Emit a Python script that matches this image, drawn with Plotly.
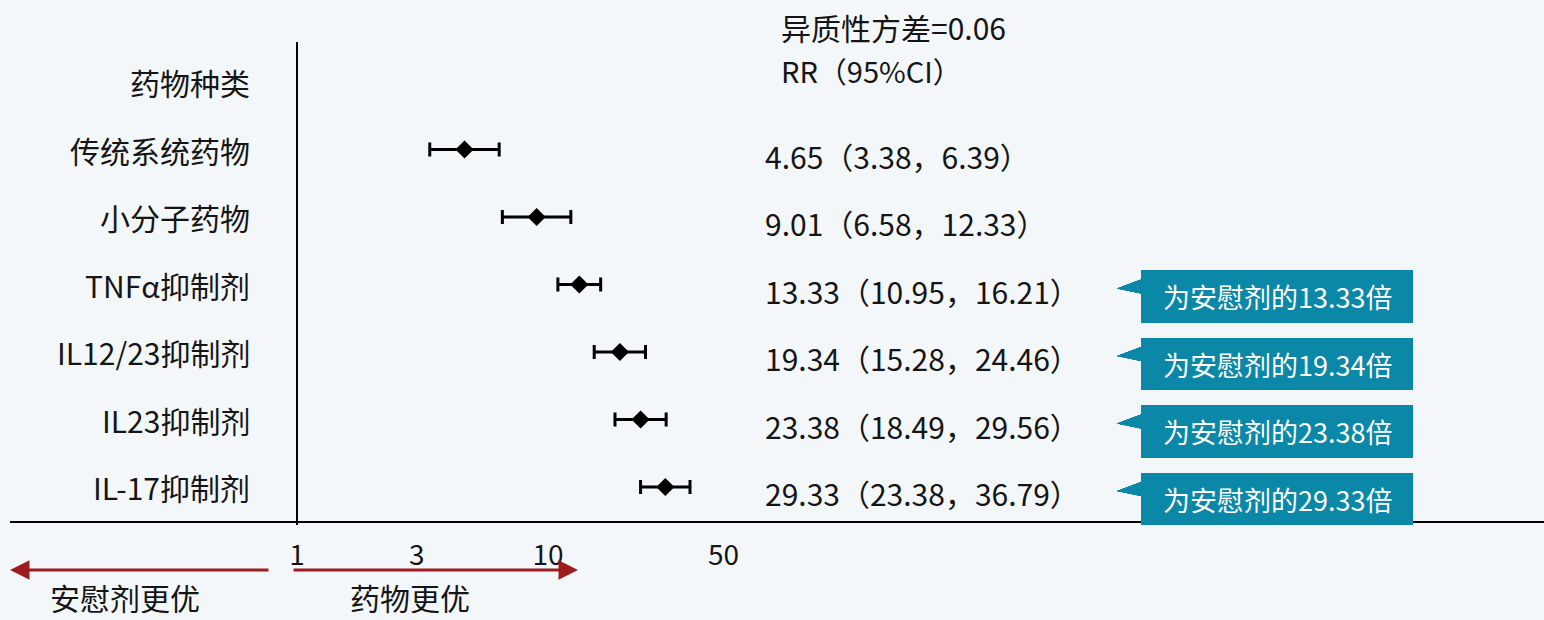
import plotly.graph_objects as go
import math

# ---------------- data ----------------
categories = ["传统系统药物", "小分子药物", "TNFα抑制剂", "IL12/23抑制剂", "IL23抑制剂", "IL-17抑制剂"]
rr = [4.65, 9.01, 13.33, 19.34, 23.38, 29.33]
ci_low = [3.38, 6.58, 10.95, 15.28, 18.49, 23.38]
ci_high = [6.39, 12.33, 16.21, 24.46, 29.56, 36.79]
show_callout = [False, False, True, True, True, True]
tick_vals = [1, 3, 10, 50]
tick_text = ["1", "3", "10", "50"]
null_value = 1
header_label = "药物种类"
heterogeneity_text = "异质性方差=0.06"
effect_header = "RR（95%CI）"
left_label = "安慰剂更优"
right_label = "药物更优"

# ---------------- layout constants ----------------
W, H = 1544, 620
FONT = "Noto Sans CJK SC"
ROW_PX = 67.5          # pixel height of one row
ROW0_PX = 82           # pixel of row index 0 (header)
NULL_PX = 297          # pixel of x = 1
DECADE_PX = 251        # pixels per decade on the log axis
AXIS_PX = 522          # pixel of the horizontal axis line
X_LEFT_PX = 10
TEAL = "#0b87a8"
ARROW = "#a01b1f"
TXT = "#151515"

rows = list(range(1, len(categories) + 1))

fig = go.Figure()

# background gradient bands
top_c = (250, 251, 253)
bot_c = (224, 233, 241)
nb = 31
for k in range(nb):
    t = k / (nb - 1)
    c = tuple(int(round(top_c[j] + (bot_c[j] - top_c[j]) * t)) for j in range(3))
    fig.add_shape(type="rect", xref="paper", yref="paper",
                  x0=0, x1=1, y0=1 - (k + 1) / nb, y1=1 - k / nb,
                  fillcolor="rgb(%d,%d,%d)" % c, line_width=0, layer="below")

# faint mountain silhouettes
def P(x, y):
    return "%f,%f" % (x / W, 1 - y / H)

mountains = [
    ([(0, 330), (60, 250), (110, 235), (150, 270), (230, 330), (300, 420), (300, 620), (0, 620)], "rgba(200,215,228,0.35)"),
    ([(1100, 180), (1180, 110), (1240, 95), (1290, 150), (1400, 70), (1544, 0), (1544, 620), (1100, 620)], "rgba(205,220,232,0.30)"),
    ([(420, 520), (560, 430), (700, 470), (820, 420), (980, 500), (1100, 470), (1100, 620), (420, 620)], "rgba(205,220,232,0.25)"),
]
for pts, col in mountains:
    path = "M " + " L ".join(P(x, y) for x, y in pts) + " Z"
    fig.add_shape(type="path", xref="paper", yref="paper", path=path,
                  fillcolor=col, line_width=0, layer="below")

# forest plot points with CIs
fig.add_trace(go.Scatter(
    x=rr, y=rows, mode="markers",
    marker=dict(symbol="diamond", size=14, color="black"),
    error_x=dict(type="data", symmetric=False,
                 array=[h - v for h, v in zip(ci_high, rr)],
                 arrayminus=[v - l for v, l in zip(rr, ci_low)],
                 color="black", thickness=3, width=7),
    showlegend=False, hoverinfo="skip",
))

annotations = []
null_log = math.log10(null_value)   # annotations on a log axis take log10 units
# row labels
annotations.append(dict(x=null_log, xref="x", y=0, yref="y", text=header_label,
                        xanchor="right", xshift=-(NULL_PX - 252), showarrow=False,
                        font=dict(family=FONT, size=30, color=TXT)))
for r, name in zip(rows, categories):
    annotations.append(dict(x=null_log, xref="x", y=r, yref="y", text=name,
                            xanchor="right", xshift=-(NULL_PX - 252), showarrow=False,
                            font=dict(family=FONT, size=30, color=TXT)))
# value texts
for r, v, lo, hi in zip(rows, rr, ci_low, ci_high):
    annotations.append(dict(x=763 / W, xref="paper", y=r, yref="y",
                            text=f"{v:.2f}（{lo:.2f}，{hi:.2f}）",
                            xanchor="left", yshift=-6, showarrow=False,
                            font=dict(family=FONT, size=30, color=TXT)))
# header texts
annotations.append(dict(x=779 / W, xref="paper", y=1 - 27 / H, yref="paper",
                        text=heterogeneity_text, xanchor="left", yanchor="middle",
                        showarrow=False, font=dict(family=FONT, size=30, color=TXT)))
annotations.append(dict(x=779 / W, xref="paper", y=1 - 70 / H, yref="paper",
                        text=effect_header, xanchor="left", yanchor="middle",
                        showarrow=False, font=dict(family=FONT, size=29, color=TXT)))

# callouts
shapes = []
BX0, BX1 = 1141, 1413
for r, v, flag in zip(rows, rr, show_callout):
    if not flag:
        continue
    c = r + 12 / ROW_PX
    top = c - 26 / ROW_PX
    bot = c + 26 / ROW_PX
    path = (f"M {BX0 / W},{top} L {BX1 / W},{top} L {BX1 / W},{bot} L {BX0 / W},{bot} "
            f"L {BX0 / W},{top + 23 / ROW_PX} L {1117 / W},{top + 18 / ROW_PX} "
            f"L {BX0 / W},{top + 9 / ROW_PX} Z")
    shapes.append(dict(type="path", xref="paper", yref="y", path=path,
                       fillcolor=TEAL, line_width=0, layer="above"))
    annotations.append(dict(x=(BX0 + BX1) / 2 / W, xref="paper", y=c, yref="y",
                            text=f"为安慰剂的{v:.2f}倍", showarrow=False,
                            xanchor="center", yanchor="middle",
                            font=dict(family=FONT, size=27, color="white")))

# null line (x = 1)
shapes.append(dict(type="line", xref="x", x0=null_value, x1=null_value, yref="paper",
                   y0=1 - 42 / H, y1=1 - 525 / H, line=dict(color="black", width=1.5)))

# direction arrows
annotations.append(dict(x=X_LEFT_PX / W, xref="paper", y=1 - 570 / H, yref="paper",
                        ax=270 - X_LEFT_PX, ay=0, axref="pixel", ayref="pixel",
                        text="", showarrow=True, arrowhead=2, arrowsize=1.3,
                        arrowwidth=3, arrowcolor=ARROW))
annotations.append(dict(x=578 / W, xref="paper", y=1 - 570 / H, yref="paper",
                        ax=292 - 578, ay=0, axref="pixel", ayref="pixel",
                        text="", showarrow=True, arrowhead=2, arrowsize=1.3,
                        arrowwidth=3, arrowcolor=ARROW))
annotations.append(dict(x=125 / W, xref="paper", y=1 - 597 / H, yref="paper",
                        text=left_label, showarrow=False, xanchor="center", yanchor="middle",
                        font=dict(family=FONT, size=30, color=TXT)))
annotations.append(dict(x=410 / W, xref="paper", y=1 - 597 / H, yref="paper",
                        text=right_label, showarrow=False, xanchor="center", yanchor="middle",
                        font=dict(family=FONT, size=30, color=TXT)))

x_lo = (X_LEFT_PX - NULL_PX) / DECADE_PX
x_hi = (W - NULL_PX) / DECADE_PX
y_top = -ROW0_PX / ROW_PX
y_bot = (H - ROW0_PX) / ROW_PX

fig.update_layout(
    width=W, height=H,
    margin=dict(l=0, r=0, t=0, b=0),
    paper_bgcolor="#f4f7fa", plot_bgcolor="rgba(0,0,0,0)",
    showlegend=False,
    xaxis=dict(type="log", range=[x_lo, x_hi], domain=[X_LEFT_PX / W, 1],
               anchor="free", position=1 - AXIS_PX / H,
               showline=True, linecolor="black", linewidth=1.5,
               showgrid=False, zeroline=False,
               tickvals=tick_vals, ticktext=tick_text, ticks="",
               ticklabelstandoff=9,
               tickfont=dict(family=FONT, size=28, color=TXT)),
    yaxis=dict(range=[y_bot, y_top], domain=[0, 1], visible=False),
    shapes=shapes,
    annotations=annotations,
)

fig.write_html("out.html")
